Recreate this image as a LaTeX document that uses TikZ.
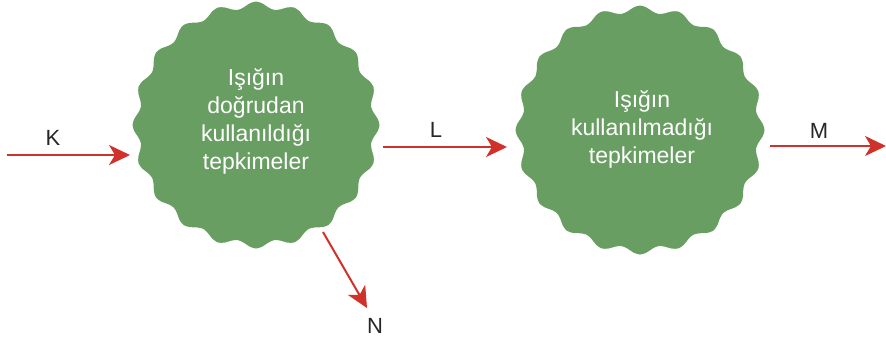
\documentclass[tikz,border=0pt]{standalone}
\usepackage{fontspec}
\setmainfont{Liberation Sans}
\usetikzlibrary{arrows.meta}
\definecolor{blobgreen}{HTML}{689E61}
\definecolor{arrowred}{HTML}{D0312B}
\tikzset{
  blob/.style={fill=blobgreen},
  blobtext/.style={text=white, align=center, font=\fontsize{23}{28}\selectfont},
  redarrow/.style={draw=arrowred, line width=2pt, -{Stealth[length=21pt,width=20pt,inset=6pt]}},
  lbl/.style={font=\fontsize{22}{26}\selectfont, text=black!85}
}
\begin{document}
\begin{tikzpicture}[x=1pt,y=-1pt]
\useasboundingbox (0,0) rectangle (886,341);
% wavy circles
\fill[blob] plot[smooth cycle, samples=120, domain=0:357]
  ({256+(120+3.5*cos(20*\x))*cos(\x)}, {125+(120+3.5*cos(20*\x))*sin(\x)});
\fill[blob] plot[smooth cycle, samples=120, domain=0:357]
  ({640+(121+3.5*cos(20*\x))*cos(\x)}, {130+(121+3.5*cos(20*\x))*sin(\x)});
\node[blobtext] (c1) at (256,121) {Işığın\\doğrudan\\kullanıldığı\\tepkimeler};
\node[blobtext] (c2) at (642,129) {Işığın\\kullanılmadığı\\tepkimeler};
% arrow endpoints
\coordinate (ks) at (7,155);
\coordinate (ke) at (130,155);
\coordinate (ls) at (383,147);
\coordinate (le) at (507,147);
\coordinate (ms) at (770,146);
\coordinate (me) at (886,146);
\coordinate (ns) at (323,232);
\coordinate (ne) at (367,308);
\draw[redarrow] (ks) -- (ke);
\draw[redarrow] (ls) -- (le);
\draw[redarrow] (ms) -- (me);
\draw[redarrow] (ns) -- (ne);
\node[lbl] (k) at (53,138) {K};
\node[lbl] (l) at (436,130) {L};
\node[lbl] (m) at (819,131) {M};
\node[lbl] (n) at (375,326) {N};
\end{tikzpicture}
\end{document}
